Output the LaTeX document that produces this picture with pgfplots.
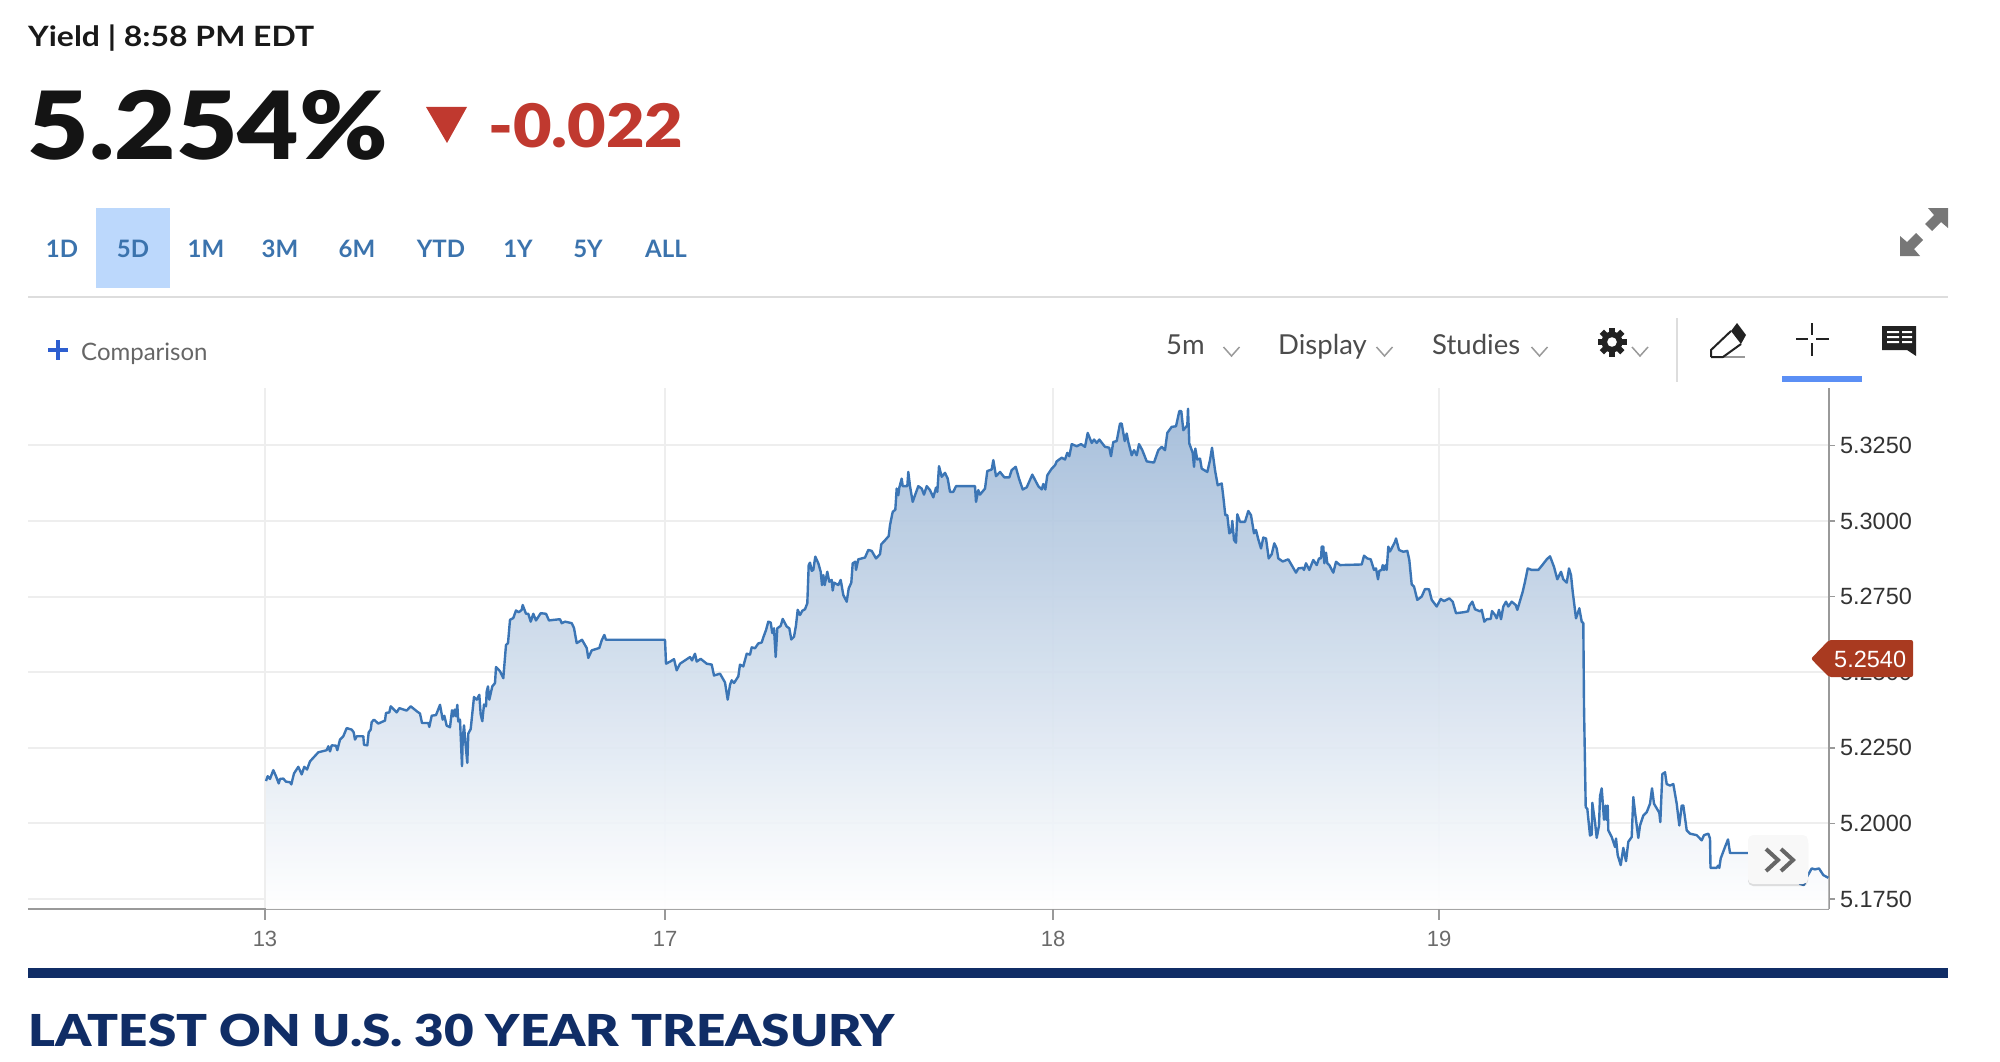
\documentclass[border=0pt]{standalone}
\usepackage{pgfplots}
\usepackage{pgfplotstable}
\usepackage{fontspec}
\pgfplotsset{compat=1.18}
\setmainfont{Lato}
\newfontfamily\lblack{Lato Black}
\newfontfamily\libs{Liberation Sans}
\definecolor{linecol}{HTML}{3B75B5}
\definecolor{tabcol}{HTML}{3B73AD}
\definecolor{redcol}{HTML}{C0392F}
\definecolor{navy}{HTML}{102D66}
\definecolor{gridcol}{HTML}{EEEEEE}
\definecolor{axcol}{HTML}{999999}
\definecolor{topc}{HTML}{A3BCD9}
\definecolor{tabbg}{HTML}{BCD8FC}
\definecolor{rulecol}{HTML}{DDDDDD}
\definecolor{pluscol}{HTML}{2E5FD0}
\definecolor{iconk}{HTML}{222222}
\definecolor{barblue}{HTML}{5B8FF5}
\definecolor{expcol}{HTML}{777777}
\definecolor{tagcol}{HTML}{A93A20}
\definecolor{btn}{HTML}{F8F8F8}
\definecolor{chev}{HTML}{666666}
\newcommand{\fs}[1]{\fontsize{#1}{#1}\selectfont}
\pgfplotstableread{
x y
266 5.2140
267.7 5.2156
270 5.2147
273.3 5.2176
276 5.2156
278.7 5.2132
280 5.2147
283.3 5.2148
286 5.2138
290 5.2136
291.3 5.2129
294 5.2165
298.3 5.2187
301.7 5.2162
304.3 5.2187
307 5.2178
310 5.2205
318.3 5.2235
326.7 5.2242
328.3 5.2255
330 5.2238
331.7 5.2258
336 5.2257
337.3 5.2242
340 5.2277
343.3 5.2288
346.7 5.2315
351.7 5.2310
353.7 5.2301
355 5.2277
356.7 5.2288
363.3 5.2288
364 5.2260
367.3 5.2258
368.7 5.2301
370.7 5.2310
371.7 5.2335
374 5.2343
378.3 5.2330
385 5.2340
386 5.2365
389.3 5.2367
390.7 5.2387
396.7 5.2367
399.3 5.2381
406.7 5.2373
410.7 5.2387
416.7 5.2371
420 5.2363
422 5.2332
428.3 5.2332
429.3 5.2319
431.7 5.2356
436 5.2358
440 5.2392
442.7 5.2343
444.3 5.2356
446.7 5.2323
450 5.2318
452 5.2374
453.3 5.2354
454.7 5.2376
456 5.2354
457.3 5.2392
458.3 5.2337
460 5.2343
462 5.2189
462.7 5.2277
464 5.2324
465.3 5.2271
467.3 5.2200
468.3 5.2297
470.7 5.2312
472 5.2354
474 5.2418
476.7 5.2409
479.3 5.2425
480.7 5.2360
482.3 5.2338
484 5.2393
486 5.2387
486.7 5.2436
488 5.2453
489.3 5.2409
492.3 5.2453
495 5.2464
496 5.2517
500 5.2503
503.3 5.2480
506 5.2590
508 5.2596
510 5.2673
513.3 5.2679
516 5.2704
518.7 5.2698
521.7 5.2706
522.7 5.2722
526 5.2693
528.3 5.2693
530.7 5.2667
533.3 5.2693
536 5.2671
540.7 5.2695
546 5.2693
549 5.2671
554 5.2673
560 5.2675
561.7 5.2662
565 5.2667
571.7 5.2662
574 5.2646
576.7 5.2596
582 5.2607
586.7 5.2580
588.3 5.2547
591.7 5.2572
599.3 5.2580
601.7 5.2605
604.3 5.2623
606 5.2607
665 5.2607
666 5.2528
670.7 5.2536
674 5.2543
676.7 5.2506
680 5.2528
685 5.2539
690 5.2550
692 5.2539
695 5.2561
696.7 5.2535
700.7 5.2544
706.7 5.2528
711.7 5.2525
714 5.2489
720 5.2495
725 5.2466
727.7 5.2409
730 5.2458
731.7 5.2473
734 5.2464
738.3 5.2486
740 5.2525
743.3 5.2519
746.7 5.2561
750 5.2558
751.7 5.2582
755 5.2579
758.3 5.2595
761.7 5.2598
763.3 5.2615
766 5.2639
768.3 5.2667
770.7 5.2664
772.3 5.2629
774 5.2645
775.7 5.2550
777.3 5.2645
780.7 5.2653
782.7 5.2676
786.7 5.2651
789.3 5.2645
791.3 5.2608
794 5.2617
796 5.2655
797.7 5.2706
800 5.2689
802.3 5.2703
805 5.2708
807.3 5.2728
808.7 5.2854
810 5.2862
811.7 5.2835
813.3 5.2838
815.3 5.2882
818.3 5.2860
820.7 5.2832
822 5.2788
823.3 5.2821
824.7 5.2788
827.3 5.2832
829.3 5.2799
831.7 5.2805
832.7 5.2770
834 5.2796
838.3 5.2788
840.7 5.2805
843.3 5.2755
846.7 5.2733
848.7 5.2777
851.3 5.2796
852.7 5.2860
855.3 5.2865
856 5.2838
858.3 5.2873
865 5.2879
868.3 5.2904
871.7 5.2901
876 5.2876
880 5.2890
881.3 5.2923
885 5.2936
888.7 5.2950
890 5.2986
892.7 5.3030
895.3 5.3037
896.7 5.3107
898.3 5.3085
899.3 5.3110
901.7 5.3140
902.7 5.3115
907.3 5.3115
908.3 5.3162
910 5.3115
912.7 5.3063
915 5.3085
918.3 5.3115
921.7 5.3107
924 5.3087
926.7 5.3115
930 5.3102
933.3 5.3078
936 5.3110
937.3 5.3096
939 5.3181
941.7 5.3146
945 5.3159
947.7 5.3140
950 5.3096
953.3 5.3096
956 5.3115
975 5.3115
976 5.3063
978.3 5.3102
980 5.3087
985 5.3107
987.3 5.3165
991.7 5.3170
993.3 5.3201
996 5.3148
1000 5.3162
1004.3 5.3144
1009.3 5.3144
1011.7 5.3168
1015.7 5.3179
1019 5.3140
1022.7 5.3104
1026.7 5.3111
1032.3 5.3153
1038.3 5.3115
1041.7 5.3104
1043.3 5.3122
1045.3 5.3104
1047.3 5.3151
1051.7 5.3173
1055 5.3184
1056.7 5.3197
1061.7 5.3209
1065 5.3203
1067.3 5.3225
1069.3 5.3214
1071.7 5.3254
1076.7 5.3247
1081 5.3254
1085 5.3245
1087.7 5.3291
1091.7 5.3258
1094 5.3269
1096.7 5.3258
1099.3 5.3269
1105 5.3245
1109.3 5.3242
1111 5.3214
1113.3 5.3261
1116.7 5.3264
1120 5.3322
1121.7 5.3322
1124.7 5.3264
1126.7 5.3289
1128.3 5.3261
1131.7 5.3217
1134 5.3234
1136.7 5.3217
1139 5.3254
1142.3 5.3234
1146.7 5.3197
1150 5.3195
1154 5.3193
1158.3 5.3234
1161.7 5.3245
1165 5.3234
1167.3 5.3291
1171.7 5.3311
1176 5.3313
1179.3 5.3363
1181.3 5.3363
1183.3 5.3300
1187.3 5.3316
1188 5.3371
1189.3 5.3256
1192.7 5.3225
1194 5.3179
1195.3 5.3239
1197.3 5.3203
1200 5.3206
1201.7 5.3173
1207.3 5.3162
1210 5.3201
1212 5.3242
1215 5.3168
1217.7 5.3118
1221.7 5.3124
1223.3 5.3080
1225.3 5.3019
1227.3 5.3019
1229.3 5.2959
1231.3 5.2964
1232.3 5.3000
1234 5.2937
1236 5.2928
1237.3 5.3022
1240 5.2997
1245 5.2997
1248.3 5.3033
1251 5.3019
1254 5.2959
1256 5.2970
1258.3 5.2939
1261 5.2909
1263.3 5.2945
1266 5.2942
1268.7 5.2876
1271.7 5.2890
1274.3 5.2926
1276.7 5.2909
1278.3 5.2876
1282.7 5.2866
1288.3 5.2873
1296 5.2829
1298.3 5.2843
1302.7 5.2845
1304 5.2838
1306 5.2860
1309.3 5.2838
1313.3 5.2871
1316.7 5.2854
1319 5.2876
1321 5.2876
1321.7 5.2915
1323.3 5.2915
1324.3 5.2860
1326 5.2895
1327.3 5.2860
1329.3 5.2854
1333.3 5.2829
1336 5.2865
1340 5.2854
1361.7 5.2856
1364 5.2885
1367.3 5.2876
1370.7 5.2873
1374 5.2838
1376 5.2843
1378 5.2807
1379.3 5.2835
1381.7 5.2838
1382.7 5.2854
1384 5.2838
1385.7 5.2854
1386.7 5.2838
1388.3 5.2915
1390 5.2899
1395 5.2931
1396 5.2942
1399 5.2904
1403.3 5.2898
1407.3 5.2901
1409.3 5.2871
1411.7 5.2790
1414 5.2783
1417.3 5.2739
1421.7 5.2750
1425 5.2775
1429 5.2774
1431.7 5.2739
1436.7 5.2717
1440.7 5.2742
1444 5.2735
1449.3 5.2744
1452.7 5.2733
1456 5.2695
1463.3 5.2698
1468 5.2701
1469.3 5.2719
1472.3 5.2733
1475 5.2708
1480 5.2701
1481.7 5.2706
1484.3 5.2667
1486.7 5.2675
1490.7 5.2676
1492 5.2702
1495 5.2689
1496.7 5.2678
1499 5.2706
1501 5.2675
1503.3 5.2717
1506 5.2733
1508.3 5.2717
1511.7 5.2733
1515.7 5.2722
1517.3 5.2706
1519.3 5.2728
1522.7 5.2766
1525 5.2799
1527.7 5.2843
1531.7 5.2838
1538.3 5.2838
1542.3 5.2854
1546.7 5.2873
1550 5.2883
1554 5.2848
1557.3 5.2807
1561 5.2832
1563.3 5.2807
1566.7 5.2796
1569 5.2843
1571 5.2821
1572.7 5.2766
1576 5.2678
1579.3 5.2711
1581.7 5.2667
1583.3 5.2662
1584 5.2388
1585.7 5.2054
1587.3 5.2048
1590 5.1960
1591.7 5.1963
1592.3 5.2068
1595 5.2004
1596.7 5.1952
1599 5.1993
1600 5.2090
1601.7 5.2116
1604 5.2012
1605.7 5.2059
1606.3 5.2012
1607.7 5.2059
1608.3 5.1977
1611.7 5.1955
1615 5.1922
1616 5.1950
1617.7 5.1895
1620.7 5.1862
1623.3 5.1919
1626 5.1875
1628.3 5.1939
1631.7 5.1955
1633.3 5.2087
1635 5.2037
1638.3 5.1952
1640 5.1993
1643.3 5.2026
1646.7 5.2037
1650 5.2065
1652 5.2116
1654 5.2065
1659.3 5.2035
1660.3 5.2004
1662.3 5.2163
1665 5.2169
1666.7 5.2130
1670 5.2125
1673.3 5.2130
1676.7 5.2065
1679.3 5.1993
1681.7 5.2059
1683.3 5.2059
1686.7 5.1977
1690 5.1966
1696.7 5.1961
1701.7 5.1944
1704 5.1961
1708.3 5.1966
1710 5.1950
1710.5 5.1853
1716.7 5.1853
1718 5.1860
1719.3 5.1853
1720.7 5.1884
1725 5.1922
1728 5.1947
1730 5.1902
1770 5.1902
1790 5.1880
1800 5.1800
1804 5.1796
1806 5.1818
1811.7 5.1851
1815 5.1848
1819 5.1851
1823.3 5.1829
1828.3 5.1820
}\yieldtable
\begin{document}
\begin{tikzpicture}[x=1pt,y=-1pt]
\useasboundingbox (0,0) rectangle (2000,1062);
\begin{axis}[
  at={(28pt,-909pt)}, anchor=south west, scale only axis,
  width=1801pt, height=521pt,
  xmin=28, xmax=1829, ymin=5.17169, ymax=5.34395,
  axis x line=bottom, axis y line=right,
  axis line style={-, draw=axcol, line width=2pt},
  xtick={265,665,1053,1439}, xticklabels={13,17,18,19},
  ytick={5.175,5.2,5.225,5.25,5.275,5.3,5.325},
  tick align=outside, major tick length=5.5pt,
  xtick style={draw=none}, ytick style={draw=axcol,line width=1.5pt},
  grid=major, grid style={gridcol,line width=2pt},
  yticklabel style={font=\libs\fs{23.5}, text=black!80, /pgf/number format/fixed,
    /pgf/number format/precision=4, /pgf/number format/zerofill,
    /pgf/number format/assume math mode=true, xshift=2pt},
  xticklabel style={font=\libs\fs{22}, text=black!58, /pgf/number format/assume math mode=true, yshift=-13pt},
  clip=false,
]
\addplot[draw=none, top color=topc, bottom color=white, fill opacity=0.95, forget plot]
  table[x=x,y=y]{\yieldtable} -- (axis cs:1828.3,5.17169) -- (axis cs:266,5.17169) -- cycle;
\addplot[color=linecol, line width=2.4pt, no marks, line join=round] table[x=x,y=y]{\yieldtable};
\end{axis}
% x ticks
\foreach \tx in {265,665,1053,1439} \draw[axcol,line width=1.3pt] (\tx,909)--(\tx,920);
% header
\node[anchor=base west,inner sep=0,font=\bfseries\fs{28},text=black!90] at (28,46.7) {\scalebox{1.14}[1]{Yield | 8:58 PM EDT}};
\node[anchor=base west,inner sep=0,font=\lblack\fs{94},text=black!92] at (27.5,159.5) {\scalebox{1.13}[1]{5.254\%}};
\fill[redcol] (426,107)--(467,107)--(447,143)--cycle;
\node[anchor=base west,inner sep=0,font=\lblack\fs{60},text=redcol] at (488,147.5) {\scalebox{1.11}[1]{-0.022}};
% tabs
\fill[tabbg] (96,208) rectangle (170,288);
\foreach \tx/\tl in {62/1D,133/5D,206/1M,280/3M,357/6M,441/YTD,518/1Y,588/5Y,666/ALL}
  \node[anchor=base,inner sep=0,font=\bfseries\fs{24},text=tabcol] at (\tx,257) {\tl};
\draw[rulecol,line width=2pt] (28,296.7)--(1948,296.7);
% comparison
\draw[pluscol,line width=3.5pt] (48,350)--(68,350) (58,340)--(58,360);
\node[anchor=base west,inner sep=0,font=\fs{24},text=black!60] at (81,360) {Comparison};
% toolbar
\node[anchor=base west,inner sep=0,font=\fs{27.5},text=black!70] at (1166,354) {5m};
\node[anchor=base west,inner sep=0,font=\fs{27.5},text=black!70] at (1278,354) {Display};
\node[anchor=base west,inner sep=0,font=\fs{27.5},text=black!70] at (1432,354) {Studies};
\foreach \cx in {1231.5,1384.5,1539.5,1640}
  \draw[axcol,line width=1.5pt] (\cx-8,347)--(\cx,356)--(\cx+8,347);
% gear
\foreach \a in {0,45,...,315}
  \fill[iconk,rotate around={\a:(1612,342)}] (1609,327.5) rectangle (1615,336);
\fill[iconk] (1612,342) circle (10.5);
\fill[white] (1612,342) circle (4.8);
\draw[rulecol,line width=1.5pt] (1677,318)--(1677,382);
% pencil
\draw[axcol,line width=2pt] (1722,357)--(1745,357);
\fill[iconk] (1737,323)--(1746,335)--(1741,344)--(1731,331)--cycle;
\draw[iconk,line width=2pt,line join=round] (1711,357)--(1711,350)--(1731,331) (1711,357)--(1723,357)--(1741,344);
% crosshair
\draw[iconk,line width=1.5pt] (1812,323)--(1812,335) (1812,343)--(1812,356) (1796,339)--(1808,339) (1816,339)--(1829,339);
\fill[barblue] (1782,376) rectangle (1862,382);
% comment
\fill[iconk] (1882,326) rectangle (1916,350) (1907,350)--(1916,350)--(1916,356)--cycle;
\fill[white] (1887,331) rectangle (1899,333) (1902,331) rectangle (1912,333) (1887,336) rectangle (1899,338) (1902,336) rectangle (1912,338) (1887,341) rectangle (1899,343) (1902,341) rectangle (1912,343);
% expand
\fill[expcol] (1948,208)--(1948,228)--(1941,222)--(1932,231)--(1925,224)--(1934,215)--(1928,208)--cycle;
\fill[expcol] (1900,256)--(1900,236)--(1907,242)--(1916,233)--(1923,240)--(1914,249)--(1920,256)--cycle;
% last price tag
\fill[tagcol,rounded corners=2pt] (1811,658.7)--(1829,640)--(1913,640)--(1913,677)--(1829,677)--cycle;
\node[anchor=base west,inner sep=0,font=\libs\fs{23.5},text=white] at (1834,667) {5.2540};
% button
\fill[black,opacity=0.12,rounded corners=5pt] (1748,838) rectangle (1808,886);
\fill[btn,rounded corners=5pt] (1748,835) rectangle (1808,884);
\draw[chev,line width=4pt] (1766,849)--(1778,860)--(1766,871) (1781,849)--(1793,860)--(1781,871);
% bottom
\fill[navy] (28,968) rectangle (1948,978);
\node[anchor=base west,inner sep=0,font=\lblack\fs{44},text=navy] at (28,1046) {\scalebox{1.162}[1]{LATEST ON U.S. 30 YEAR TREASURY}};
\end{tikzpicture}
\end{document}
